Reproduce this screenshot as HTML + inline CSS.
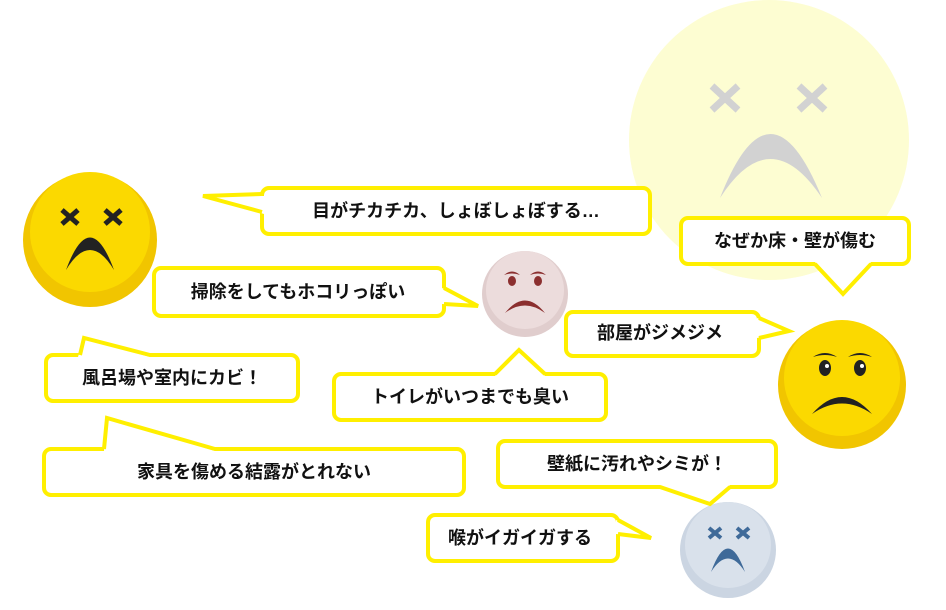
<!DOCTYPE html>
<html><head><meta charset="utf-8"><style>
html,body{margin:0;padding:0;background:#fff;}
svg{display:block}
text{font-family:"Liberation Sans","Noto Sans CJK JP",sans-serif;font-weight:bold;font-size:18px;fill:#111;text-anchor:middle;dominant-baseline:central}
.r{fill:#fff;stroke:#ffef00;stroke-width:4}
.t{fill:none;stroke:#ffef00;stroke-width:4;stroke-linejoin:miter}
.tf{fill:#fff;stroke:none}
</style></head><body>
<svg width="946" height="610" viewBox="0 0 946 610">
<!-- big faint face -->
<circle cx="769" cy="140" r="140" fill="#fdfdd2"/>
<g stroke="#d2d2d2" stroke-width="7">
<line x1="712" y1="86" x2="738" y2="110"/><line x1="738" y1="86" x2="712" y2="110"/>
<line x1="799" y1="86" x2="825" y2="110"/><line x1="825" y1="86" x2="799" y2="110"/>
</g>
<path d="M720 198 Q770 70 822 198 Q770 120 720 198Z" fill="#d2d2d2"/>

<!-- face 1 -->
<circle cx="90" cy="240" r="67" fill="#f1c500"/>
<circle cx="90" cy="232" r="60" fill="#fbd900"/>
<g stroke="#222" stroke-width="5">
<line x1="62" y1="210" x2="78" y2="224"/><line x1="78" y1="210" x2="62" y2="224"/>
<line x1="105" y1="210" x2="121" y2="224"/><line x1="121" y1="210" x2="105" y2="224"/>
</g>
<path d="M66 270 Q90 205 114 270 Q90 230 66 270Z" fill="#222"/>

<!-- face 2 pink -->
<circle cx="525" cy="294" r="43" fill="#e0cdcd"/>
<circle cx="525" cy="290" r="39" fill="#ecdcdc"/>
<g fill="#8b2f2f">
<ellipse cx="512" cy="281" rx="4" ry="5"/><ellipse cx="538" cy="281" rx="4" ry="5"/>
<path d="M504 275 Q512 268 520 275 Q512 272 504 275Z"/><path d="M530 275 Q538 268 546 275 Q538 272 530 275Z"/>
<path d="M505 313 Q525 288 545 313 Q525 298 505 313Z"/>
</g>

<!-- face 3 yellow -->
<circle cx="842" cy="385" r="64" fill="#f1c500"/>
<circle cx="842" cy="378" r="58" fill="#fbd900"/>
<g fill="#222">
<ellipse cx="825" cy="368" rx="6" ry="8"/><ellipse cx="860" cy="368" rx="6" ry="8"/>
<path d="M813 357 Q825 349 837 357 Q825 353 813 357Z"/><path d="M848 357 Q860 349 872 357 Q860 353 848 357Z"/>
<path d="M812 414 Q842 380 872 414 Q842 393 812 414Z"/>
</g>
<circle cx="827" cy="366" r="2" fill="#fff"/><circle cx="862" cy="366" r="2" fill="#fff"/>

<!-- face 4 blue -->
<circle cx="728" cy="550" r="48" fill="#cbd5e2"/>
<circle cx="728" cy="545" r="43" fill="#d9e1eb"/>
<g stroke="#3f6a99" stroke-width="4">
<line x1="709" y1="528" x2="721" y2="538"/><line x1="721" y1="528" x2="709" y2="538"/>
<line x1="737" y1="528" x2="749" y2="538"/><line x1="749" y1="528" x2="737" y2="538"/>
</g>
<path d="M711 572 Q728 525 745 572 Q728 545 711 572Z" fill="#3f6a99"/>

<!-- bubble 1 -->
<rect class="r" x="262" y="188" width="388" height="46" rx="7"/>
<polygon class="tf" points="264,196 203,196 264,214"/>
<polyline class="t" points="262,194 203,196 262,212"/>
<text x="456" y="211">目がチカチカ、しょぼしょぼする…</text>
<!-- bubble 2 -->
<rect class="r" x="154" y="268" width="290" height="48" rx="7"/>
<polygon class="tf" points="442,288 478,306 442,304"/>
<polyline class="t" points="444,288 478,306 444,304"/>
<text x="298" y="292">掃除をしてもホコリっぽい</text>
<!-- bubble 3 -->
<rect class="r" x="681" y="218" width="228" height="46" rx="7"/>
<polygon class="tf" points="815,262 843,294 871,262"/>
<polyline class="t" points="815,264 843,294 871,264"/>
<text x="795" y="241">なぜか床・壁が傷む</text>
<!-- bubble 4 -->
<rect class="r" x="566" y="312" width="193" height="44" rx="7"/>
<polygon class="tf" points="757,318 789,331 757,338"/>
<polyline class="t" points="759,318 789,331 759,338"/>
<text x="660" y="333">部屋がジメジメ</text>
<!-- bubble 5 -->
<rect class="r" x="46" y="355" width="252" height="46" rx="7"/>
<polygon class="tf" points="78,357 84,338 150,357"/>
<polyline class="t" points="80,355 84,338 150,355"/>
<text x="172" y="378">風呂場や室内にカビ！</text>
<!-- bubble 6 -->
<rect class="r" x="334" y="374" width="272" height="46" rx="7"/>
<polygon class="tf" points="495,376 519,350 545,376"/>
<polyline class="t" points="495,374 519,350 545,374"/>
<text x="470" y="397">トイレがいつまでも臭い</text>
<!-- bubble 7 -->
<rect class="r" x="44" y="449" width="420" height="46" rx="7"/>
<polygon class="tf" points="104,451 107,418 215,451"/>
<polyline class="t" points="104,449 107,418 215,449"/>
<text x="254" y="472">家具を傷める結露がとれない</text>
<!-- bubble 8 -->
<rect class="r" x="498" y="441" width="278" height="46" rx="7"/>
<polygon class="tf" points="660,485 710,504 730,485"/>
<polyline class="t" points="660,487 710,504 730,487"/>
<text x="637" y="464">壁紙に汚れやシミが！</text>
<!-- bubble 9 -->
<rect class="r" x="428" y="515" width="190" height="46" rx="7"/>
<polygon class="tf" points="616,520 651,538 616,534"/>
<polyline class="t" points="618,520 651,538 618,534"/>
<text x="520" y="538">喉がイガイガする</text>
</svg>
</body></html>
